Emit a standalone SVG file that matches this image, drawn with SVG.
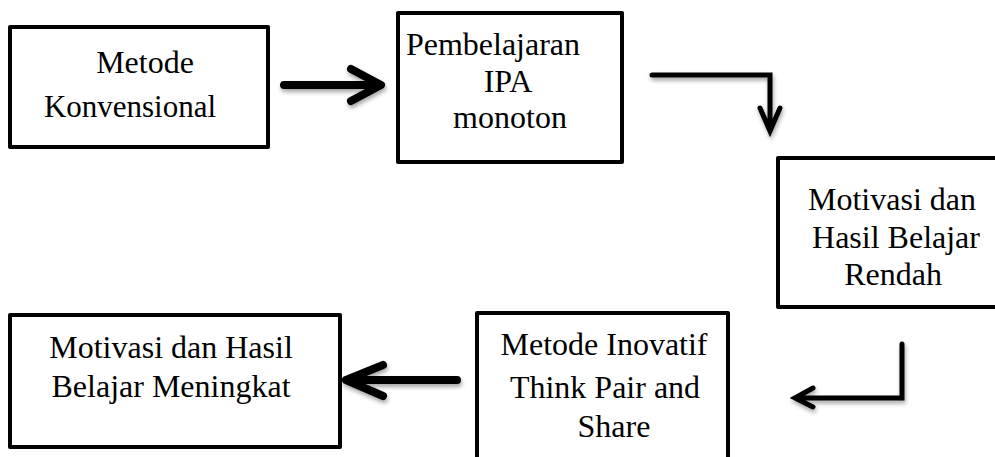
<svg xmlns="http://www.w3.org/2000/svg" width="995" height="457" viewBox="0 0 995 457">
<defs>
<style>
.box{fill:#fff;stroke:#000;stroke-width:4;stroke-linejoin:round}
.t{font-family:"Liberation Serif","Times New Roman",serif;font-size:32px;fill:#000;text-anchor:middle}
.thick{fill:none;stroke:#000;stroke-width:8;stroke-linecap:round;stroke-linejoin:round}
.thin{fill:none;stroke:#000;stroke-width:5;stroke-linecap:round;stroke-linejoin:miter}
</style>
<filter id="sh" x="-20%" y="-20%" width="140%" height="160%">
<feDropShadow dx="1" dy="3" stdDeviation="2" flood-color="#000" flood-opacity="0.35"/>
</filter>
</defs>
<g id="n1">
<rect class="box" x="10" y="27" width="258" height="120"/>
<text class="t" x="145" y="73">Metode</text>
<text class="t" x="130" y="117" style="font-size:31px">Konvensional</text>
</g>
<g id="n2">
<rect class="box" x="398" y="13" width="224" height="149"/>
<text class="t" x="493" y="55">Pembelajaran</text>
<text class="t" x="508" y="92">IPA</text>
<text class="t" x="510" y="128">monoton</text>
</g>
<g id="n3">
<rect class="box" x="778" y="158" width="225" height="149"/>
<text class="t" x="892" y="210">Motivasi dan</text>
<text class="t" x="896" y="248">Hasil Belajar</text>
<text class="t" x="893" y="285">Rendah</text>
</g>
<g id="n4">
<rect class="box" x="477" y="313" width="251" height="160"/>
<text class="t" x="604" y="355">Metode Inovatif</text>
<text class="t" x="605" y="398">Think Pair and</text>
<text class="t" x="614" y="437">Share</text>
</g>
<g id="n5">
<rect class="box" x="10" y="315" width="330" height="132"/>
<text class="t" x="171" y="358">Motivasi dan Hasil</text>
<text class="t" x="171" y="397">Belajar Meningkat</text>
</g>
<g id="connectors" filter="url(#sh)">
<path class="thick" d="M284 85 H380 M351 69 L381 85 L351 101"/>
<path class="thin" d="M652 75 H770 V130 M760 108 L770 131 L780 108"/>
<path class="thin" d="M902 344 V398 H796 M813 388 L795 398 L813 407"/>
<path class="thick" d="M457 380 H346 M383 365 L346 380 L383 396"/>
</g>
</svg>
